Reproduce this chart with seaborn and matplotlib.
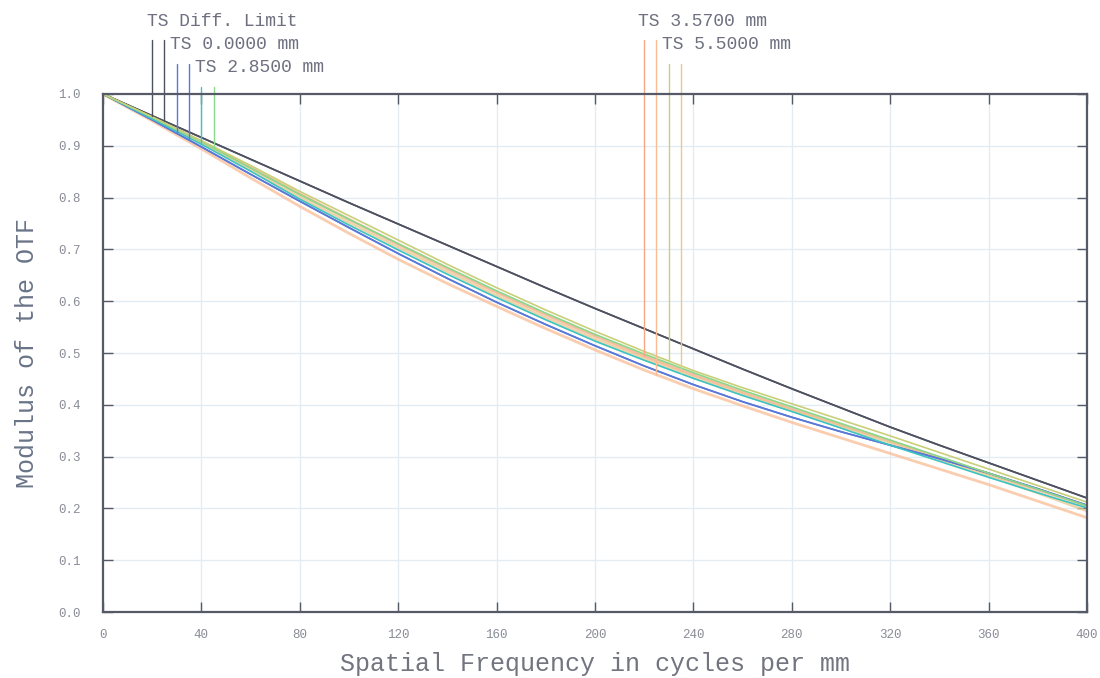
import matplotlib
matplotlib.use('Agg')
import matplotlib.pyplot as plt
import seaborn as sns
import numpy as np
import pandas as pd

# spatial frequency (cycles/mm) and MTF values
freq = list(range(0, 401, 20))

diff_t = [1.000, 0.958, 0.916, 0.874, 0.832, 0.790, 0.749, 0.708, 0.667, 0.626, 0.586,
          0.547, 0.508, 0.469, 0.431, 0.394, 0.357, 0.322, 0.288, 0.254, 0.220]
diff_s = list(diff_t)
f0000_t = [1.000, 0.950, 0.898, 0.845, 0.793, 0.742, 0.692, 0.644, 0.598, 0.555, 0.514,
           0.475, 0.439, 0.406, 0.376, 0.348, 0.322, 0.296, 0.268, 0.238, 0.206]
f0000_s = list(f0000_t)
f2850_t = [1.000, 0.952, 0.903, 0.851, 0.797, 0.747, 0.699, 0.652, 0.607, 0.564, 0.523,
           0.486, 0.451, 0.418, 0.387, 0.355, 0.322, 0.291, 0.260, 0.230, 0.201]
f2850_s = [1.000, 0.955, 0.908, 0.857, 0.806, 0.758, 0.711, 0.665, 0.620, 0.577, 0.536,
           0.498, 0.462, 0.428, 0.396, 0.364, 0.332, 0.300, 0.268, 0.237, 0.205]
f3570_t = [1.000, 0.955, 0.908, 0.858, 0.807, 0.758, 0.710, 0.663, 0.617, 0.574, 0.533,
           0.494, 0.458, 0.424, 0.392, 0.361, 0.330, 0.298, 0.267, 0.236, 0.205]
f3570_s = [1.000, 0.948, 0.894, 0.838, 0.783, 0.731, 0.681, 0.634, 0.590, 0.547, 0.506,
           0.467, 0.431, 0.398, 0.366, 0.336, 0.306, 0.276, 0.246, 0.214, 0.182]
f5500_t = [1.000, 0.956, 0.910, 0.862, 0.812, 0.765, 0.718, 0.671, 0.626, 0.583, 0.542,
           0.503, 0.466, 0.433, 0.402, 0.371, 0.340, 0.308, 0.276, 0.244, 0.212]
f5500_s = [1.000, 0.954, 0.906, 0.854, 0.801, 0.752, 0.704, 0.657, 0.611, 0.568, 0.527,
           0.489, 0.453, 0.420, 0.389, 0.358, 0.327, 0.295, 0.263, 0.230, 0.195]

series_names = ['Diff T', 'Diff S', '0.0000 T', '0.0000 S', '2.8500 T', '2.8500 S',
                '3.5700 T', '3.5700 S', '5.5000 T', '5.5000 S']
series_values = [diff_t, diff_s, f0000_t, f0000_s, f2850_t, f2850_s,
                 f3570_t, f3570_s, f5500_t, f5500_s]
# frequency where each series' label leader line drops onto its curve
leader_x = [20, 25, 30, 35, 40, 45, 220, 225, 230, 235]

label_texts = ['TS Diff. Limit', 'TS 0.0000 mm', 'TS 2.8500 mm', 'TS 3.5700 mm', 'TS 5.5000 mm']

colors = {
    'Diff T': '#4d5160', 'Diff S': '#4d5160',
    '0.0000 T': '#5a78d8', '0.0000 S': '#5a78d8',
    '2.8500 T': '#3cc4c0', '2.8500 S': '#8ad88a',
    '3.5700 T': '#f6a882', '3.5700 S': '#f9bd95',
    '5.5000 T': '#c9cf78', '5.5000 S': '#e6c890',
}

rows = []
for name, vals in zip(series_names, series_values):
    for f, v in zip(freq, vals):
        rows.append({'freq': f, 'mtf': v, 'series': name})
data = pd.DataFrame(rows)

sns.set_theme(style='white')
plt.rcParams['font.family'] = ['Liberation Mono', 'DejaVu Sans Mono']

fig = plt.figure(figsize=(11, 6.78), dpi=100)
ax = fig.add_axes([0.0936, 0.0973, 0.8946, 0.7641])

grid_color = '#e4ecf3'
for gx in range(40, 400, 40):
    ax.axvline(gx, color=grid_color, lw=1.0, zorder=0)
for gy in np.arange(0.1, 1.0, 0.1):
    ax.axhline(gy, color=grid_color, lw=1.0, zorder=0)

# pale off-axis curves drawn broader, the rest thin
broad = ['3.5700 T', '3.5700 S', '5.5000 S']
sns.lineplot(data=data[data['series'].isin(broad)], x='freq', y='mtf', hue='series',
             palette=colors, legend=False, ax=ax, linewidth=2.0, alpha=0.75, estimator=None)
sns.lineplot(data=data[~data['series'].isin(broad)], x='freq', y='mtf', hue='series',
             palette=colors, legend=False, ax=ax, linewidth=1.2, estimator=None)

# leader lines from label area down to the curves
tops = [1.104, 1.104, 1.058, 1.058, 1.014, 1.014, 1.104, 1.104, 1.058, 1.058]
for name, vals, lx, top in zip(series_names, series_values, leader_x, tops):
    y0 = np.interp(lx, freq, vals)
    ax.plot([lx, lx], [y0, top], color=colors[name], lw=1.0, clip_on=False)

label_pos = [(17.9, 1.139), (27.4, 1.095), (37.4, 1.052), (217.5, 1.139), (227.2, 1.095)]
for txt, (tx, ty) in zip(label_texts, label_pos):
    ax.text(tx, ty, txt, fontsize=13, color='#6e7080', va='center', ha='left',
            clip_on=False)

ax.set_xlim(0, 400)
ax.set_ylim(0, 1.0)
ax.set_xticks(range(0, 401, 40))
ax.set_yticks(np.arange(0, 1.01, 0.1))
ax.set_yticklabels([f'{v:.1f}' for v in np.arange(0, 1.01, 0.1)])
ax.tick_params(direction='in', length=7, width=1.0, color='#555a66',
               top=True, right=True, bottom=True, left=True,
               labelsize=9, labelcolor='#8a8c96')
ax.tick_params(axis='y', pad=16)
ax.tick_params(axis='x', pad=12)
for sp in ax.spines.values():
    sp.set_color('#555a66')
    sp.set_linewidth(1.6)

ax.set_xlabel('Spatial Frequency in cycles per mm', fontsize=18, color='#72747f', labelpad=8)
ax.set_ylabel('Modulus of the OTF', fontsize=18, color='#6a7488', labelpad=14)

fig.savefig('out.png', dpi=100)
